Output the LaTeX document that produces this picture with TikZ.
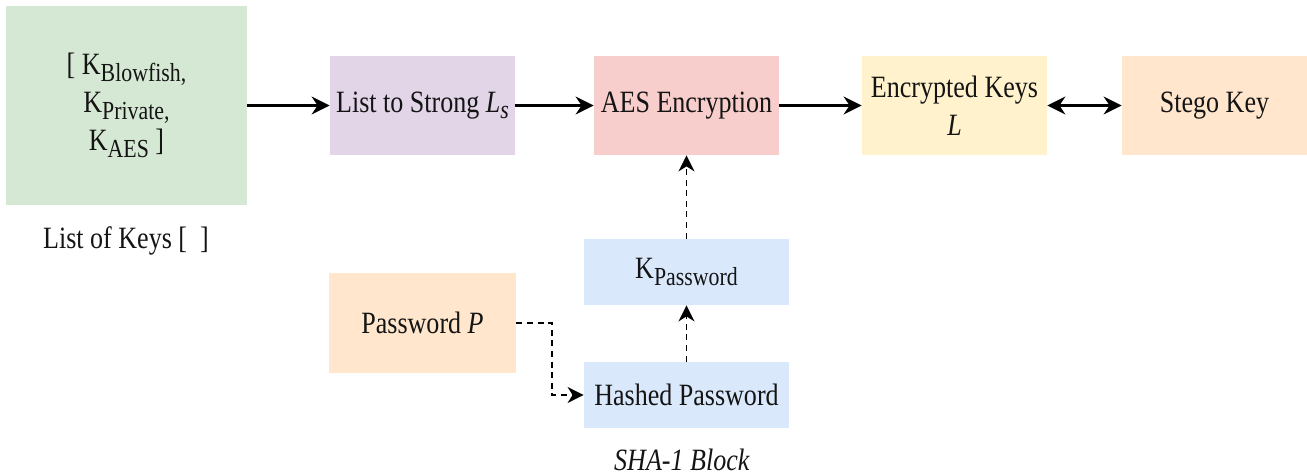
\documentclass[tikz,border=0pt]{standalone}
\usepackage{fontspec}
\setmainfont{Liberation Serif}[FakeStretch=0.84]
\usetikzlibrary{arrows.meta}
\definecolor{cgreen}{HTML}{D5E8D4}
\definecolor{cpurple}{HTML}{E1D5E7}
\definecolor{cred}{HTML}{F8CECC}
\definecolor{cyellow}{HTML}{FFF2CC}
\definecolor{corange}{HTML}{FFE6CC}
\definecolor{cblue}{HTML}{DAE8FC}
\newcommand{\sbs}[1]{\raisebox{-0.45ex}{\fontsize{13}{13}\selectfont #1}}
\begin{document}
\begin{tikzpicture}[x=0.5pt,y=-0.5pt,
  box/.style={draw=none,inner sep=0pt,align=center,font=\fontsize{15.5}{19}\selectfont,text=black!92},
  lbl/.style={inner sep=0pt,font=\fontsize{15.5}{19}\selectfont,text=black!92},
  solidarrow/.style={line width=1.1pt,-{Stealth[length=9pt,width=9pt,inset=3pt]}},
  dasharrow/.style={line width=0.9pt,dash pattern=on 3pt off 2.3pt,-{Stealth[length=8pt,width=8pt,inset=2.5pt]}}]
\useasboundingbox (0,0) rectangle (1307,475);
\node[box,fill=cgreen,minimum width=120.5pt,minimum height=99.5pt] (keys) at (126.5,105.5)
  {[ K\sbs{Blowfish,}\\K\sbs{Private,}\\K\sbs{AES} ]};
\node[lbl] (keyslbl) at (126,241) {List of Keys [\ \ ]};
\node[box,fill=cpurple,minimum width=92.5pt,minimum height=49.5pt] (lts) at (422.5,105.5)
  {List to Strong \textit{L}\sbs{\textit{s}}};
\node[box,fill=cred,minimum width=92.5pt,minimum height=49.5pt] (aes) at (686.5,105.5) {AES Encryption};
\node[box,fill=cyellow,minimum width=92.5pt,minimum height=49.5pt] (enc) at (954.5,105.5) {Encrypted Keys\\\textit{L}};
\node[box,fill=corange,minimum width=92.5pt,minimum height=49.5pt] (stego) at (1214.5,105.5) {Stego Key};
\node[box,fill=cblue,minimum width=102.5pt,minimum height=33pt] (kpw) at (686.5,272) {K\sbs{Password}};
\node[box,fill=cblue,minimum width=102.5pt,minimum height=33pt] (hash) at (686.5,395) {Hashed Password};
\node[box,fill=corange,minimum width=93.5pt,minimum height=50pt] (pw) at (422.5,323) {Password \textit{P}};
\node[lbl] (sha) at (682,460) {\textit{SHA-1 Block}};
\coordinate (bend1) at (552,323);
\coordinate (bend2) at (552,395);
\draw[solidarrow] (keys.east) -- (lts.west);
\draw[solidarrow] (lts.east) -- (aes.west);
\draw[solidarrow] (aes.east) -- (enc.west);
\draw[line width=1.1pt,{Stealth[length=9pt,width=9pt,inset=3pt]}-{Stealth[length=9pt,width=9pt,inset=3pt]}] (enc.east) -- (stego.west);
\draw[dasharrow] (kpw.north) -- (aes.south);
\draw[dasharrow] (hash.north) -- (kpw.south);
\draw[dasharrow] (pw.east) -- (bend1) -- (bend2) -- (hash.west);
\end{tikzpicture}
\end{document}
